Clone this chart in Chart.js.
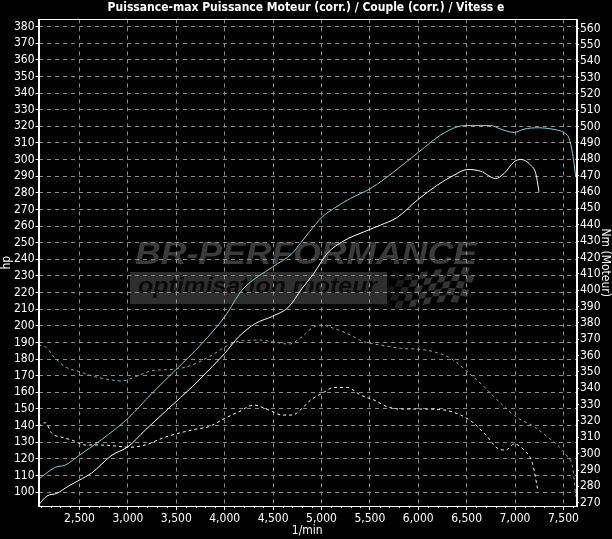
<!DOCTYPE html>
<html>
<head>
<meta charset="utf-8">
<script src="https://cdn.jsdelivr.net/npm/chart.js@4.4.0/dist/chart.umd.min.js"></script>
<style>
  html, body { margin: 0; padding: 0; background: #000; }
  #wrap { width: 612px; height: 539px; }
</style>
</head>
<body>
<div id="wrap"><canvas id="c" width="612" height="539"></canvas></div>
<script>
// ---------- DATA ----------
const chartTitle = 'Puissance-max Puissance Moteur (corr.) / Couple (corr.) / Vitess e';
const rpmTicks = [2500, 3000, 3500, 4000, 4500, 5000, 5500, 6000, 6500, 7000, 7500];
const hpTicks = [100,110,120,130,140,150,160,170,180,190,200,210,220,230,240,250,260,270,280,290,300,310,320,330,340,350,360,370,380];
const nmTicks = [270,280,290,300,310,320,330,340,350,360,370,380,390,400,410,420,430,440,450,460,470,480,490,500,510,520,530,540,550,560];

// Power (corr.) - cyan solid, hp
const rpmPowerCyan = [2076,2249,2352,2500,2732,3000,3249,3493,3766,4000,4180,4497,4697,4783,4938,5008,5128,5300,5507,5748,6007,6231,6404,6508,6749,6852,6990,7093,7232,7403,7507,7559,7594,7628];
const powerCyan    = [107.6,114.9,116.2,122.2,131.7,144.3,159.4,173.4,189.4,205.4,221.5,235.5,243.5,249.7,261.0,265.5,270.6,276.6,282.6,292.6,304.6,314.7,319.7,320.5,320.5,318.3,316.3,318.3,319.1,318.1,316.1,312.7,303.7,289.6];

// Power - white solid, hp
const rpmPowerWhite = [2076,2163,2266,2386,2500,2628,2835,3000,3180,3421,3663,3870,4000,4145,4318,4497,4662,4800,4921,5059,5231,5438,5611,5783,5990,6197,6369,6508,6645,6800,6886,6990,7059,7162,7214,7248];
const powerWhite    = [92.2,97.6,99.2,103.6,107.2,111.6,122.2,127.2,137.3,150.3,163.3,175.4,183.4,193.4,201.4,205.8,211.4,222.5,231.5,243.5,251.1,256.5,260.6,265.2,275.6,284.6,290.6,294.0,293.0,288.6,291.6,298.6,300.1,296.6,291.6,280.6];

// Torque (corr.) - cyan dashed, Nm
const rpmTorqueCyan = [2076,2145,2249,2352,2500,2662,2835,2939,3076,3249,3493,3663,3870,4041,4180,4387,4497,4662,4800,4921,5008,5128,5266,5438,5611,5818,6007,6162,6335,6508,6680,6852,7007,7197,7335,7473,7542,7594,7628];
const torqueCyan    = [366.4,365.4,358.3,353.1,350.1,347.0,345.0,344.4,347.0,350.7,351.7,354.2,360.3,366.4,369.0,369.4,368.4,367.0,371.5,377.6,378.6,376.6,373.5,368.4,366.4,364.4,363.8,362.3,358.3,350.1,340.9,330.8,322.6,316.5,310.3,303.3,298.1,292.0,273.7];

// Torque - white dashed, Nm
const rpmTorqueWhite = [2076,2145,2214,2318,2421,2559,2697,2869,3007,3180,3352,3493,3697,3835,4000,4145,4300,4455,4594,4697,4800,4887,5008,5128,5266,5404,5542,5680,5818,6024,6266,6438,6576,6714,6818,6904,6990,7093,7180,7232];
const torqueWhite    = [316.5,318.9,312.4,310.0,308.3,305.3,305.3,304.7,303.9,305.3,309.4,312.0,314.9,316.5,321.6,325.6,329.7,326.7,323.6,323.6,327.7,332.8,336.9,340.5,340.5,335.8,332.8,328.7,327.3,327.3,326.7,323.6,318.5,310.3,303.3,302.2,305.9,302.2,294.1,278.8];

// ---------- HELPERS ----------
const pts = (xs, ys) => xs.map((x, i) => ({ x: x, y: ys[i] }));
const FONT = "'Liberation Sans Narrow', 'Arial Narrow', 'DejaVu Sans Condensed', 'Liberation Sans', sans-serif";

const bgPlugin = {
  id: 'bg',
  beforeDraw(chart) {
    const ctx = chart.ctx;
    ctx.save();
    ctx.fillStyle = '#000';
    ctx.fillRect(0, 0, chart.width, chart.height);
    // watermark
    ctx.font = "italic bold 32px 'Liberation Sans', sans-serif";
    let w = ctx.measureText('BR-PERFORMANCE').width;
    ctx.save();
    ctx.translate(135, 264);
    ctx.scale(342 / w, 1);
    ctx.fillStyle = '#3b3b3b';
    ctx.textBaseline = 'alphabetic';
    ctx.fillText('BR-PERFORMANCE', 0, 0);
    ctx.restore();
    ctx.fillStyle = '#2e2e2e';
    ctx.fillRect(130, 272, 257, 32);
    ctx.font = "italic bold 22px 'Liberation Sans', sans-serif";
    w = ctx.measureText('optimisation moteur').width;
    ctx.save();
    ctx.translate(138, 293);
    ctx.scale(239 / w, 1);
    ctx.fillStyle = '#0a0a0a';
    ctx.fillText('optimisation moteur', 0, 0);
    ctx.restore();
    // checkered flag
    ctx.save();
    const cs = 7;
    for (let r = 0; r < 5; r++) {
      for (let c = 0; c < 13; c++) {
        if ((r + c) % 2 === 0) continue;
        const fade = Math.min(1, (c + 1) / 6);
        ctx.globalAlpha = 0.9 * fade;
        const wave = Math.sin(c * 0.45) * 3;
        const x0 = 386 + c * cs - r * 2.5;
        const y0 = 270 + r * cs + wave;
        ctx.fillStyle = '#3a3a3a';
        ctx.beginPath();
        ctx.moveTo(x0, y0);
        ctx.lineTo(x0 + cs, y0 + Math.sin((c + 1) * 0.45) * 3 - wave);
        ctx.lineTo(x0 + cs - 2.5, y0 + cs + Math.sin((c + 1) * 0.45) * 3 - wave);
        ctx.lineTo(x0 - 2.5, y0 + cs);
        ctx.closePath();
        ctx.fill();
      }
    }
    ctx.restore();
    ctx.restore();
  },
  afterDraw(chart) {
    const ctx = chart.ctx, a = chart.chartArea;
    ctx.save();
    ctx.strokeStyle = '#fff';
    ctx.lineWidth = 1;
    ctx.strokeRect(Math.round(a.left) + 0.5, Math.round(a.top) + 0.5, Math.round(a.right - a.left), Math.round(a.bottom - a.top));
    // minor ticks on x axis every 100 rpm
    const xs = chart.scales.x;
    ctx.beginPath();
    for (let v = 2100; v <= 7600; v += 100) {
      if (v % 500 === 0) continue;
      const px = Math.round(xs.getPixelForValue(v)) + 0.5;
      ctx.moveTo(px, a.bottom);
      ctx.lineTo(px, a.bottom + 2);
    }
    ctx.stroke();
    ctx.restore();
  }
};

const gridCommon = { color: '#8c8c8c', lineWidth: 1, tickColor: '#ffffff', tickBorderDash: [], tickLength: 4 };

new Chart(document.getElementById('c'), {
  type: 'line',
  data: {
    datasets: [
      { label: 'Puissance (corr.)', data: pts(rpmPowerCyan, powerCyan), yAxisID: 'y', borderColor: '#86d0d0', borderWidth: 1, pointRadius: 0, cubicInterpolationMode: 'monotone' },
      { label: 'Puissance-max', data: pts(rpmPowerWhite, powerWhite), yAxisID: 'y', borderColor: '#ffffff', borderWidth: 1, pointRadius: 0, cubicInterpolationMode: 'monotone' },
      { label: 'Couple (corr.)', data: pts(rpmTorqueCyan, torqueCyan), yAxisID: 'y2', borderColor: '#70b0b0', borderWidth: 1, borderDash: [3, 3], pointRadius: 0, cubicInterpolationMode: 'monotone' },
      { label: 'Couple', data: pts(rpmTorqueWhite, torqueWhite), yAxisID: 'y2', borderColor: '#ffffff', borderWidth: 1, borderDash: [3, 3], pointRadius: 0, cubicInterpolationMode: 'monotone' }
    ]
  },
  options: {
    responsive: false,
    animation: false,
    events: [],
    layout: { padding: 0 },
    plugins: {
      legend: { display: false },
      tooltip: { enabled: false },
      title: {
        display: true, text: chartTitle, color: '#ffffff',
        font: { family: FONT, size: 12, weight: 'bold', lineHeight: 1.2 },
        padding: { top: 1, bottom: 4 }
      }
    },
    scales: {
      x: {
        type: 'linear', position: 'bottom', min: 2076, max: 7630,
        afterBuildTicks: (s) => { s.ticks = rpmTicks.map(v => ({ value: v })); },
        afterFit: (s) => { s.height = 33; },
        ticks: { color: '#ffffff', font: { family: FONT, size: 12 }, padding: 2, maxRotation: 0, autoSkip: false,
                 callback: (v) => v.toLocaleString('en-US') },
        grid: Object.assign({}, gridCommon),
        border: { display: true, color: '#ffffff', width: 1, dash: [4, 4] },
        title: { display: true, text: '1/min', color: '#ffffff', font: { family: FONT, size: 12 }, padding: { top: 0, bottom: 1 } }
      },
      y: {
        type: 'linear', position: 'left', min: 91.6, max: 384.3,
        afterBuildTicks: (s) => { s.ticks = hpTicks.map(v => ({ value: v })); },
        afterFit: (s) => { s.width = 38.5; },
        ticks: { color: '#ffffff', font: { family: FONT, size: 12 }, padding: 1, autoSkip: false },
        grid: Object.assign({}, gridCommon, { tickLength: 3 }),
        border: { display: true, color: '#ffffff', width: 1, dash: [4, 4] },
        title: { display: true, text: 'hp', color: '#ffffff', font: { family: FONT, size: 12 }, padding: { top: 0, bottom: 0 } }
      },
      y2: {
        type: 'linear', position: 'right', min: 268.0, max: 565.5,
        afterBuildTicks: (s) => { s.ticks = nmTicks.map(v => ({ value: v })); },
        afterFit: (s) => { s.width = 36; },
        ticks: { color: '#ffffff', font: { family: FONT, size: 12 }, padding: 1, autoSkip: false },
        grid: Object.assign({}, gridCommon, { drawOnChartArea: false, tickLength: 3 }),
        border: { display: true, color: '#ffffff', width: 1 },
        title: { display: true, text: 'Nm (Moteur)', color: '#ffffff', font: { family: FONT, size: 12 }, padding: { top: 0, bottom: 0 } }
      }
    }
  },
  plugins: [bgPlugin]
});
</script>
</body>
</html>
